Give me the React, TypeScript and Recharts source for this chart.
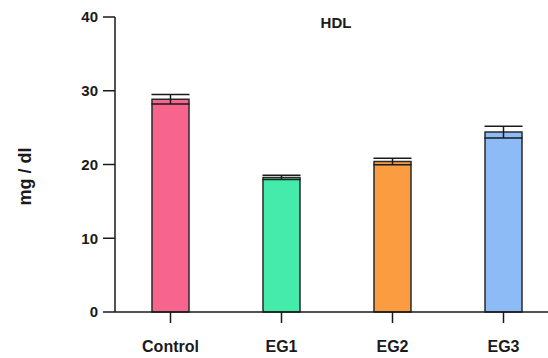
import { Bar, BarChart, Cell, ErrorBar, Label, XAxis, YAxis } from "recharts";

const groups = ["Control", "EG1", "EG2", "EG3"];
const hdl = [28.85, 18.25, 20.4, 24.4];
const sem = [0.65, 0.3, 0.45, 0.8];
const colors = ["#F7648E", "#45EBAA", "#FB9C40", "#8DBBF5"];
const yTicks = [0, 10, 20, 30, 40];

const data = groups.map((g, i) => ({ group: g, value: hdl[i], err: sem[i] }));

const font = "'Liberation Sans', Arial, sans-serif";
const ink = "#1a1a1a";

function YTitle(props: any) {
  const vb = props.viewBox || { y: 17, height: 295 };
  const cy = vb.y + vb.height / 2 + 12;
  return (
    <text
      x={25}
      y={cy}
      transform={`rotate(-90 25 ${cy})`}
      textAnchor="middle"
      dominantBaseline="central"
      fontFamily={font}
      fontWeight="bold"
      fontSize={18}
      fill={ink}
    >
      mg / dl
    </text>
  );
}

export default function App() {
  return (
    <div
      style={{
        position: "absolute",
        left: 0,
        top: 0,
        width: 548,
        height: 358,
        overflow: "hidden",
        background: "#fff",
      }}
    >
      <div
        style={{
          position: "absolute",
          left: 286,
          top: 13,
          width: 100,
          textAlign: "center",
          fontFamily: font,
          fontWeight: "bold",
          fontSize: 15,
          color: ink,
          lineHeight: "20px",
        }}
      >
        HDL
      </div>
      <BarChart
        width={559}
        height={358}
        data={data}
        margin={{ top: 17, right: 0, bottom: 0, left: 0 }}
      >
        <XAxis
          dataKey="group"
          height={46}
          tickSize={11}
          tickMargin={18}
          stroke={ink}
          strokeWidth={1.5}
          tick={{ fill: ink, fontFamily: font, fontWeight: "bold", fontSize: 16 }}
        />
        <YAxis
          width={115}
          domain={[0, 40]}
          ticks={yTicks}
          tickSize={12}
          tickMargin={5}
          stroke={ink}
          strokeWidth={1.5}
          tick={{ fill: ink, fontFamily: font, fontWeight: "bold", fontSize: 15 }}
        >
          <Label content={<YTitle />} />
        </YAxis>
        <Bar
          dataKey="value"
          barSize={37}
          stroke="#2a2a2a"
          strokeWidth={1.5}
          isAnimationActive={false}
        >
          {data.map((d, i) => (
            <Cell key={d.group} fill={colors[i]} />
          ))}
          <ErrorBar
            dataKey="err"
            width={19}
            stroke={ink}
            strokeWidth={1.5}
            isAnimationActive={false}
          />
        </Bar>
      </BarChart>
    </div>
  );
}
